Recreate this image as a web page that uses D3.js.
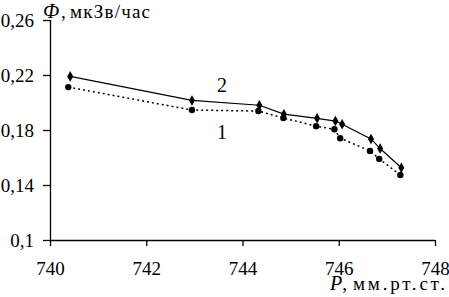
<!DOCTYPE html>
<html>
<head>
<meta charset="utf-8">
<script src="https://cdn.jsdelivr.net/npm/d3@7"></script>
<style>
body { margin: 0; background: #fff; }
</style>
</head>
<body>
<script>
// Data
var pressure2 = [740.42, 742.95, 744.35, 744.86, 745.55, 745.93, 746.07, 746.67, 746.86, 747.3];
var dose2     = [0.219, 0.2015, 0.198, 0.1915, 0.1885, 0.1865, 0.1842, 0.1735, 0.1665, 0.1525];
var pressure1 = [740.38, 742.95, 744.33, 744.85, 745.53, 745.91, 746.03, 746.65, 746.84, 747.28];
var dose1     = [0.2112, 0.1945, 0.1938, 0.1887, 0.1828, 0.1805, 0.174, 0.1648, 0.159, 0.1473];
var xTicks = [740, 742, 744, 746, 748];
var yTicks = [0.1, 0.14, 0.18, 0.22, 0.26];
var yTickLabels = ['0,1', '0,14', '0,18', '0,22', '0,26'];

var FONT = "'Liberation Serif', 'Times New Roman', serif";
var width = 449, height = 297;
var margin = {top: 20, right: 14, bottom: 57, left: 50};

var x = d3.scaleLinear().domain([740, 748]).range([margin.left, width - margin.right]);
var y = d3.scaleLinear().domain([0.1, 0.26]).range([height - margin.bottom, margin.top]);

var svg = d3.select('body').append('svg')
    .attr('width', width)
    .attr('height', height)
    .attr('font-family', FONT);

// Axes
var xAxis = d3.axisBottom(x).tickValues(xTicks).tickSize(6).tickPadding(16).tickFormat(d3.format('d'));
var yAxis = d3.axisLeft(y).tickValues(yTicks).tickSize(7).tickPadding(9)
    .tickFormat(function(d, i) { return yTickLabels[i]; });

var gx = svg.append('g')
    .attr('transform', 'translate(0,' + y(0.1) + ')')
    .call(xAxis);
var gy = svg.append('g')
    .attr('transform', 'translate(' + x(740) + ',0)')
    .call(yAxis);

[gx, gy].forEach(function(g) {
    g.attr('font-family', FONT).attr('font-size', 19);
    g.select('.domain').attr('stroke', '#000').attr('stroke-width', 1.3);
    g.selectAll('.tick line').attr('stroke', '#000').attr('stroke-width', 1.3);
    g.selectAll('.tick text').attr('fill', '#000');
});
gy.select('.domain').attr('d', 'M0.5,' + y(0.26) + 'V' + y(0.1));
gx.select('.domain').attr('d', 'M' + x(740) + ',0.5H' + x(748));

// Lines
function toPoints(px, py) {
    return px.map(function(p, i) { return [p, py[i]]; });
}
var pts1 = toPoints(pressure1, dose1);
var pts2 = toPoints(pressure2, dose2);

var line = d3.line()
    .x(function(d) { return x(d[0]); })
    .y(function(d) { return y(d[1]); });

svg.append('path')
    .attr('d', line(pts2))
    .attr('fill', 'none')
    .attr('stroke', '#000')
    .attr('stroke-width', 1.2);

svg.append('path')
    .attr('d', line(pts1))
    .attr('fill', 'none')
    .attr('stroke', '#000')
    .attr('stroke-width', 1.5)
    .attr('stroke-dasharray', '2,3');

// Markers
svg.selectAll('.dia')
    .data(pts2)
    .enter().append('path')
    .attr('class', 'dia')
    .attr('transform', function(d) { return 'translate(' + x(d[0]) + ',' + y(d[1]) + ')'; })
    .attr('d', d3.symbol().type(d3.symbolDiamond).size(32))
    .attr('fill', '#000');

svg.selectAll('.dot')
    .data(pts1)
    .enter().append('circle')
    .attr('class', 'dot')
    .attr('cx', function(d) { return x(d[0]); })
    .attr('cy', function(d) { return y(d[1]); })
    .attr('r', 3.2)
    .attr('fill', '#000');

// Series labels
svg.append('text').attr('x', 222).attr('y', 92).attr('text-anchor', 'middle')
    .attr('font-size', 20).text('2');
svg.append('text').attr('x', 222).attr('y', 139).attr('text-anchor', 'middle')
    .attr('font-size', 20).text('1');

// Axis titles
var ty = svg.append('text').attr('x', 43).attr('y', 18).attr('font-size', 19);
ty.append('tspan').attr('font-style', 'italic').attr('font-size', 20).text('Ф');
ty.append('tspan').attr('x', 61).text(',');
ty.append('tspan').attr('x', 70).attr('textLength', 80).text('мкЗв/час');

var tx = svg.append('text').attr('x', 330).attr('y', 290).attr('font-size', 19);
tx.append('tspan').attr('font-style', 'italic').attr('font-size', 20).text('P');
tx.append('tspan').text(',');
tx.append('tspan').attr('x', 353).attr('textLength', 92).text('мм.рт.ст.');
</script>
</body>
</html>
